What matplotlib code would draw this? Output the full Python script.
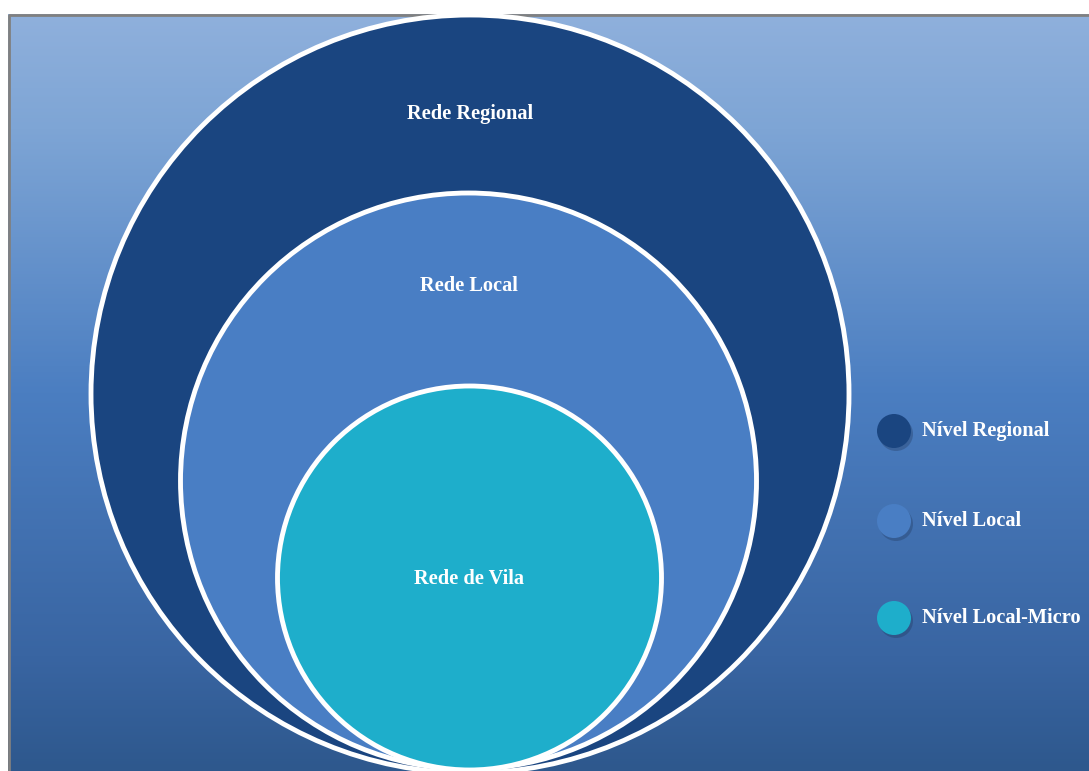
import matplotlib.pyplot as plt
import numpy as np
from matplotlib.colors import LinearSegmentedColormap
from matplotlib.patches import Circle

# nested circles (pixel space of the original picture)
ring_labels = ['Rede Regional', 'Rede Local', 'Rede de Vila']
ring_colors = ['#1a4580', '#497ec4', '#1eaecb']
ring_cx = [470, 468.5, 469.5]
ring_cy = [394, 481, 578]
ring_r = [379, 288, 192]
label_y = [114, 286, 579]

legend_labels = ['Nível Regional', 'Nível Local', 'Nível Local-Micro']
legend_y = [431, 521, 618]

W, H = 1089, 771

fig = plt.figure(figsize=(W / 100, H / 100), dpi=100)
ax = fig.add_axes([0, 0, 1, 1])
ax.set_xlim(0, W)
ax.set_ylim(H, 0)
ax.axis('off')

# background gradient box
bg = LinearSegmentedColormap.from_list(
    'bg', [(0, '#8fb0dc'), (0.15, '#7ea5d5'), (0.5, '#4b7ec1'),
           (0.85, '#3965a2'), (1, '#2e588d')])
grad = np.linspace(0, 1, 256).reshape(-1, 1)
ax.imshow(grad, cmap=bg, aspect='auto', extent=[8, W, H, 14], zorder=0)
ax.plot([8.5, 8.5, W], [H, 14.5, 14.5], color='#808080', lw=2, zorder=1)

for color, cx, cy, r in zip(ring_colors, ring_cx, ring_cy, ring_r):
    ax.add_patch(Circle((cx, cy), r, facecolor=color, edgecolor='white',
                        lw=3.5, zorder=2))

txt_kw = dict(color='white', fontsize=14.7, fontweight='bold',
              family='Liberation Serif', zorder=5)
for label, cx, y in zip(ring_labels, ring_cx, label_y):
    ax.text(cx, y, label, ha='center', va='center', **txt_kw)

for label, color, y in zip(legend_labels, ring_colors, legend_y):
    ax.add_patch(Circle((896, y + 3), 17, facecolor='#1c3050', alpha=0.3,
                        edgecolor='none', zorder=3))
    ax.add_patch(Circle((894, y), 17, facecolor=color, edgecolor='none', zorder=4))
    ax.text(922, y, label, ha='left', va='center', **txt_kw)

fig.savefig('out.png', dpi=100)
